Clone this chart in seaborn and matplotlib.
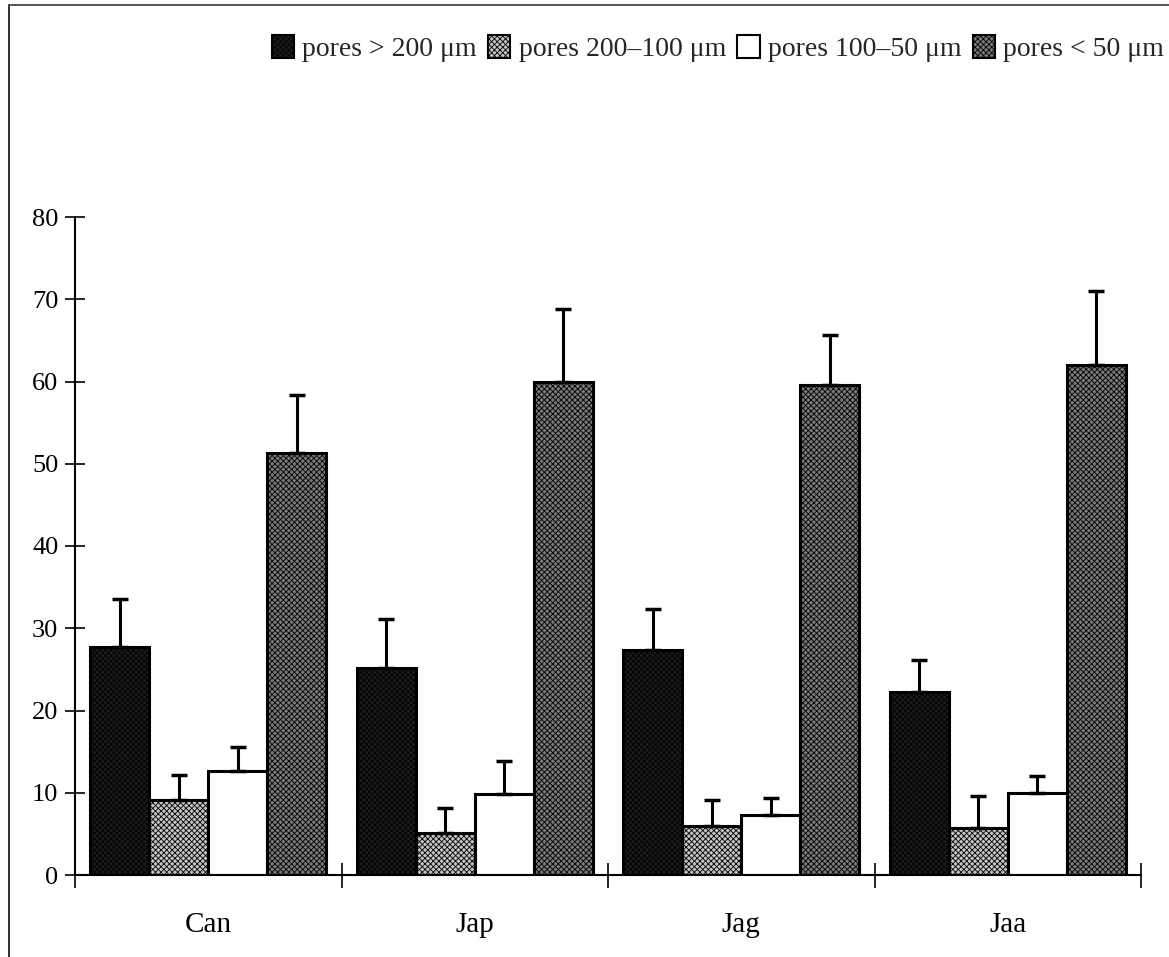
import numpy as np
import pandas as pd
import matplotlib
matplotlib.use("Agg")
import matplotlib.pyplot as plt
from matplotlib.lines import Line2D
from matplotlib.patches import Patch
import seaborn as sns

# Soil samples and pore-size classes (% of total porosity)
samples = ["Can", "Jap", "Jag", "Jaa"]
classes = ["pores > 200 μm", "pores 200–100 μm", "pores 100–50 μm", "pores < 50 μm"]

pores_gt200 = [27.7, 25.2, 27.4, 22.2]
pores_200_100 = [9.1, 5.1, 6.0, 5.7]
pores_100_50 = [12.6, 9.9, 7.3, 10.0]
pores_lt50 = [51.3, 59.9, 59.6, 62.0]

# upper error (standard deviation)
sd_gt200 = [5.9, 5.9, 5.0, 4.0]
sd_200_100 = [3.1, 3.0, 3.1, 3.9]
sd_100_50 = [3.0, 4.0, 2.1, 2.0]
sd_lt50 = [7.1, 8.9, 6.1, 9.0]

y_ticks = [0, 10, 20, 30, 40, 50, 60, 70, 80]

means = [pores_gt200, pores_200_100, pores_100_50, pores_lt50]
sds = [sd_gt200, sd_200_100, sd_100_50, sd_lt50]

df = pd.DataFrame({
    "sample": np.repeat([samples], 4, axis=0).ravel(),
    "cls": np.repeat(classes, len(samples)),
    "value": np.concatenate(means),
    "sd": np.concatenate(sds),
})

faces = ["#1c1c1c", "#c4c4c4", "#ffffff", "#7a7a7a"]
hatches = ["xxxxxx", "xxxxxx", None, "xxxxxx"]

sns.set_theme(style="white")
plt.rcParams["font.family"] = ["Liberation Serif", "DejaVu Serif"]
plt.rcParams["hatch.linewidth"] = 0.6
plt.rcParams["hatch.color"] = "black"

fig = plt.figure(figsize=(11.69, 9.57), dpi=100)
ax = fig.add_axes([75 / 1169, 82 / 957, 1066 / 1169, 658 / 957])

sns.barplot(data=df, x="sample", y="value", hue="cls", order=samples,
            hue_order=classes, palette=faces, width=0.885, gap=0,
            saturation=1, errorbar=None, legend=False, ax=ax,
            edgecolor="black", linewidth=2.2)

for cont, h, sd in zip(ax.containers, hatches, sds):
    xs = []
    ys = []
    for bar in cont:
        bar.set_hatch(h)
        xs.append(bar.get_x() + bar.get_width() / 2)
        ys.append(bar.get_height())
    ax.errorbar(xs, ys, yerr=[np.zeros(len(sd)), sd], fmt="none",
                ecolor="black", elinewidth=2.2, capsize=5.5, capthick=2.5,
                zorder=1)

ax.set_xlim(-0.5, len(samples) - 0.5)
ax.set_ylim(0, 80)
ax.set_yticks(y_ticks)
ax.set_xticks(range(len(samples)))
ax.set_xticks(np.arange(-0.5, len(samples)), minor=True)
ax.set_xlabel("")
ax.set_ylabel("")

for side in ["top", "right"]:
    ax.spines[side].set_visible(False)
for side in ["left", "bottom"]:
    ax.spines[side].set_color("black")
    ax.spines[side].set_linewidth(1.5)

ax.tick_params(axis="y", which="major", direction="inout", length=14,
               width=1.2, color="black", labelsize=19, pad=5, left=True)
ax.tick_params(axis="x", which="major", length=0, labelsize=21, pad=27)
ax.tick_params(axis="x", which="minor", direction="inout", length=18,
               width=1.2, color="black", bottom=True)
for lab in ax.get_xticklabels() + ax.get_yticklabels():
    lab.set_color("black")

handles = [Patch(facecolor=f, edgecolor="black", hatch=h, linewidth=1.5)
           for f, h in zip(faces, hatches)]
fig.legend(handles, classes, loc="upper right",
           bbox_to_anchor=(1164 / 1169, 1 - 35 / 957), ncol=4,
           frameon=False, fontsize=20, handlelength=0.8, handleheight=0.9,
           handletextpad=0.3, columnspacing=0.4, borderaxespad=0,
           borderpad=0)

# outer frame
fig.add_artist(Line2D([9 / 1169, 9 / 1169], [0, 1 - 5 / 957],
                      transform=fig.transFigure, color="#222222", lw=1.3))
fig.add_artist(Line2D([9 / 1169, 1], [1 - 5 / 957, 1 - 5 / 957],
                      transform=fig.transFigure, color="#444444", lw=1.3))

fig.savefig("out.png", dpi=100)
